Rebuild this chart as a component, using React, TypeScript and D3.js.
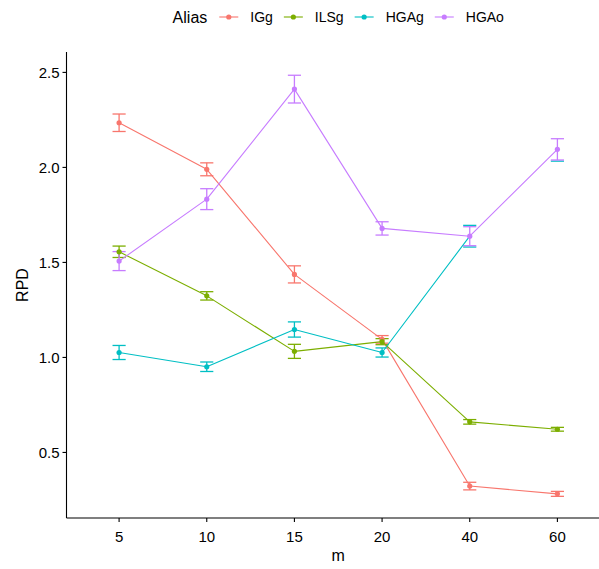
import React from "react";
import * as d3 from "d3";

// Window sizes m along the x axis, read as discrete categories
const categories = ["5", "10", "15", "20", "40", "60"];

// Series names in legend order
const aliases = ["IGg", "ILSg", "HGAg", "HGAo"];

// Mean RPD per category for each alias
const meanIGg = [2.235, 1.99, 1.437, 1.095, 0.323, 0.282];
const meanILSg = [1.556, 1.324, 1.032, 1.083, 0.661, 0.622];
const meanHGAg = [1.026, 0.951, 1.147, 1.026, 1.638, 2.093];
const meanHGAo = [1.507, 1.833, 2.412, 1.679, 1.638, 2.095];

// Half-widths of the error bars
const errIGg = [0.046, 0.034, 0.045, 0.02, 0.02, 0.013];
const errILSg = [0.03, 0.022, 0.037, 0.016, 0.012, 0.01];
const errHGAg = [0.037, 0.025, 0.04, 0.024, 0.057, 0.06];
const errHGAo = [0.05, 0.055, 0.073, 0.035, 0.05, 0.056];

const yTicks = [0.5, 1.0, 1.5, 2.0, 2.5];

const palette = ["#F8766D", "#7CAE00", "#00BFC4", "#C77CFF"];

const W = 599;
const H = 569;
const FONT = "'Liberation Sans', Arial, sans-serif";

type Row = { cat: string; mean: number; err: number };

const series = aliases.map((name, i) => {
  const means = [meanIGg, meanILSg, meanHGAg, meanHGAo][i];
  const errs = [errIGg, errILSg, errHGAg, errHGAo][i];
  const rows: Row[] = categories.map((c, j) => ({ cat: c, mean: means[j], err: errs[j] }));
  return { name, color: palette[i], rows };
});

const SAME = 0.01;

// True when a later series sits on the same value at category j
function sharedAt(si: number, j: number): boolean {
  const v = series[si].rows[j].mean;
  return series.slice(si + 1).some((o) => Math.abs(o.rows[j].mean - v) < SAME);
}

// A segment that runs exactly beneath a later series is left out, so the
// upper colour is not tinted by the one underneath.
function hiddenBelow(si: number, j: number): boolean {
  if (j === 0) return false;
  const cur = series[si].rows;
  return series.slice(si + 1).some((other) => {
    const o = other.rows;
    return Math.abs(o[j].mean - cur[j].mean) < SAME && Math.abs(o[j - 1].mean - cur[j - 1].mean) < SAME;
  });
}

// A cap whose value nearly coincides with a later series' cap is left out too
function capHidden(si: number, j: number, v: number): boolean {
  return series.slice(si + 1).some((o) => {
    const r = o.rows[j];
    return Math.abs(r.mean + r.err - v) < 0.004 || Math.abs(r.mean - r.err - v) < 0.004;
  });
}

function textWidth(s: string, size: number): number {
  if (typeof document === "undefined") return s.length * size * 0.55;
  const cv = document.createElement("canvas");
  const ctx = cv.getContext("2d");
  if (!ctx) return s.length * size * 0.55;
  ctx.font = `${size}px ${FONT}`;
  return ctx.measureText(s).width;
}

export default function App() {
  const panel = { left: 66.5, right: 610, top: 52, bottom: 518 };

  const x = d3
    .scalePoint<string>()
    .domain(categories)
    .range([panel.left, panel.right])
    .padding(0.6);

  const y = d3.scaleLinear().domain([0.155, 2.6]).range([panel.bottom, panel.top + 1.4]);

  const capHalf = (x.step() * 0.15) / 2;

  // Legend layout along the top
  const titleSize = 16;
  const labelSize = 14;
  const keyW = 19;
  const items = series.map((s) => ({ ...s, w: textWidth(s.name, labelSize) }));
  const titleW = textWidth("Alias", titleSize);
  const gapTitle = 12;
  const gapKey = 12;
  const gapItem = 11;
  const totalW =
    titleW + gapTitle + items.reduce((acc, it) => acc + keyW + gapKey + it.w, 0) + gapItem * (items.length - 1);
  const legendStart = (panel.left + panel.right) / 2 - totalW / 2;
  let cursor = legendStart + titleW + gapTitle;
  const legendItems = items.map((it) => {
    const pos = { ...it, kx: cursor, tx: cursor + keyW + gapKey };
    cursor = pos.tx + it.w + gapItem;
    return pos;
  });
  const legendY = 17;

  return (
    <svg
      width={W}
      height={H}
      style={{ position: "absolute", left: 0, top: 0, background: "#fff" }}
      fontFamily={FONT}
    >
      <rect x={0} y={0} width={W} height={H} fill="#fff" />

      {/* error bars */}
      {series.map((s, si) => (
        <g key={`eb-${s.name}`} stroke={s.color} strokeWidth={1.3} fill="none">
          {s.rows.map((r, j) => {
            const cx = x(r.cat) as number;
            const lo = r.mean - r.err;
            const hi = r.mean + r.err;
            const y0 = y(lo);
            const y1 = y(hi);
            return (
              <g key={r.cat}>
                {!sharedAt(si, j) && <line x1={cx} x2={cx} y1={y0} y2={y1} />}
                {!capHidden(si, j, lo) && <line x1={cx - capHalf} x2={cx + capHalf} y1={y0} y2={y0} />}
                {!capHidden(si, j, hi) && <line x1={cx - capHalf} x2={cx + capHalf} y1={y1} y2={y1} />}
              </g>
            );
          })}
        </g>
      ))}

      {/* lines */}
      {series.map((s, si) => (
        <g key={`ln-${s.name}`} stroke={s.color} strokeWidth={1.1} fill="none" strokeLinecap="round">
          {s.rows.slice(1).map((r, k) => {
            const j = k + 1;
            if (hiddenBelow(si, j)) return null;
            const p = s.rows[j - 1];
            const seg = d3
              .line<Row>()
              .x((d) => x(d.cat) as number)
              .y((d) => y(d.mean))([p, r]);
            return <path key={r.cat} d={seg || ""} />;
          })}
        </g>
      ))}

      {/* points */}
      {series.map((s, si) => (
        <g key={`pt-${s.name}`} fill={s.color}>
          {s.rows.map((r, j) =>
            sharedAt(si, j) ? null : (
              <circle key={r.cat} cx={x(r.cat) as number} cy={y(r.mean)} r={2.6} />
            )
          )}
        </g>
      ))}

      {/* y axis */}
      <line x1={panel.left} x2={panel.left} y1={panel.top} y2={panel.bottom} stroke="#000" strokeWidth={1.1} />
      {yTicks.map((t) => (
        <g key={`yt-${t}`}>
          <line x1={panel.left - 4} x2={panel.left} y1={y(t)} y2={y(t)} stroke="#000" strokeWidth={1.1} />
          <text x={panel.left - 7} y={y(t)} dy="0.35em" textAnchor="end" fontSize={15} fill="#000">
            {t.toFixed(1)}
          </text>
        </g>
      ))}

      {/* x axis */}
      <line x1={panel.left} x2={panel.right} y1={panel.bottom} y2={panel.bottom} stroke="#000" strokeWidth={1.1} />
      {categories.map((c) => (
        <g key={`xt-${c}`}>
          <line
            x1={x(c) as number}
            x2={x(c) as number}
            y1={panel.bottom}
            y2={panel.bottom + 4}
            stroke="#000"
            strokeWidth={1.1}
          />
          <text x={x(c) as number} y={panel.bottom + 24} textAnchor="middle" fontSize={15} fill="#000">
            {c}
          </text>
        </g>
      ))}

      {/* axis titles */}
      <text x={(panel.left + panel.right) / 2} y={561} textAnchor="middle" fontSize={16} fill="#000">
        m
      </text>
      <text
        transform={`translate(28, ${(panel.top + panel.bottom) / 2}) rotate(-90)`}
        textAnchor="middle"
        fontSize={16}
        fill="#000"
      >
        RPD
      </text>

      {/* legend */}
      <text x={legendStart} y={legendY} dy="0.35em" fontSize={titleSize} fill="#000">
        Alias
      </text>
      {legendItems.map((it) => (
        <g key={`lg-${it.name}`}>
          <line x1={it.kx} x2={it.kx + keyW} y1={legendY} y2={legendY} stroke={it.color} strokeWidth={1.1} />
          <circle cx={it.kx + keyW / 2} cy={legendY} r={2.6} fill={it.color} />
          <text x={it.tx} y={legendY} dy="0.35em" fontSize={labelSize} fill="#000">
            {it.name}
          </text>
        </g>
      ))}
    </svg>
  );
}
